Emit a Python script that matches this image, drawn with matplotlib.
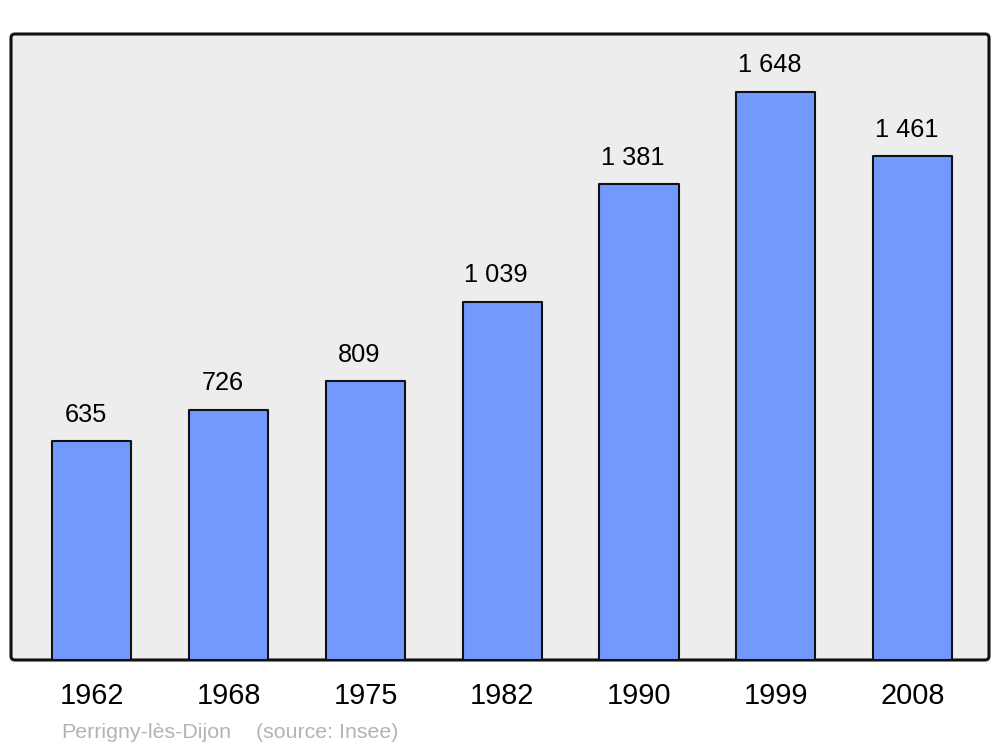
import matplotlib
matplotlib.use("Agg")
import matplotlib.pyplot as plt
from matplotlib.patches import FancyBboxPatch

years = ["1962", "1968", "1975", "1982", "1990", "1999", "2008"]
population = [635, 726, 809, 1039, 1381, 1648, 1461]
value_labels = ["635", "726", "809", "1 039", "1 381", "1 648", "1 461"]
place = "Perrigny-lès-Dijon"
source = "(source: Insee)"

plt.rcParams['font.family'] = ['Liberation Sans', 'DejaVu Sans']

fig = plt.figure(figsize=(10, 7.47), dpi=100)
ax = fig.add_axes([11/1000, 87/747, 978/1000, 626/747])
ax.set_facecolor('none')

# rounded frame/background
frame = FancyBboxPatch((0, 0), 1, 1, boxstyle="round,pad=0,rounding_size=0.004",
                       transform=ax.transAxes, facecolor='#ededed', edgecolor='#111111',
                       linewidth=2.2, zorder=0, clip_on=False, mutation_aspect=978/626)
ax.add_patch(frame)

x = list(range(len(years)))
bars = ax.bar(x, population, width=0.578, color='#7399ff', edgecolor='#111111',
              linewidth=1.5, zorder=2)
for b in bars:
    b.set_joinstyle('round')

for xi, v, lab in zip(x, population, value_labels):
    ax.annotate(lab, (xi, v), xytext=(-4.3, 14), textcoords='offset points',
                ha='center', va='baseline', fontsize=18.3, color='black')

ax.set_xlim(-0.592, 6.559)
ax.set_ylim(0, 1816)
ax.set_xticks(x)
ax.set_xticklabels(years, fontsize=20.8)
for t in ax.get_xticklabels():
    t.set_x(t.get_position()[0])
ax.tick_params(axis='x', length=0, pad=16)
ax.set_yticks([])
for s in ax.spines.values():
    s.set_visible(False)

fig.text(61/1000, 1 - 738/747, place, fontsize=15.4, color='#b3b3b3', ha='left', va='baseline')
fig.text(256/1000, 1 - 738/747, source, fontsize=15.4, color='#b3b3b3', ha='left', va='baseline')

fig.savefig("out.png", dpi=100)
